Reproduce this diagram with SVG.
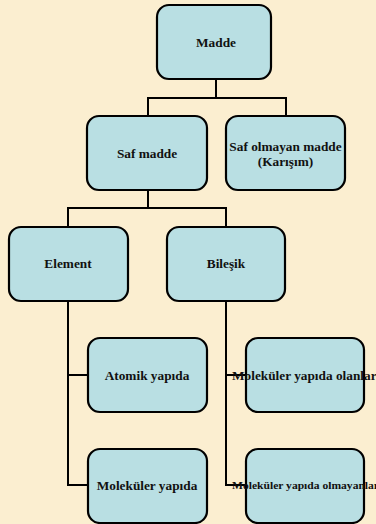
<svg xmlns="http://www.w3.org/2000/svg" width="376" height="524" viewBox="0 0 376 524">
<style>
.box{fill:#B9DFE3;stroke:#000;stroke-width:2.2}
.t{font-family:"Liberation Serif",serif;font-weight:bold;fill:#111;text-anchor:middle;font-size:13.3px}
.c{fill:none;stroke:#000;stroke-width:2}
</style>
<rect width="376" height="524" fill="#FBEED0"/>
<g id="connectors">
<path class="c" d="M216 79V98M148 116V98H286V116"/>
<path class="c" d="M148 190V208M68 227V208H226V227"/>
<path class="c" d="M68 301V485H88M68 375H88"/>
<path class="c" d="M226 301V485H246M226 375H246"/>
</g>
<g id="madde"><rect class="box" x="157" y="5" width="114" height="74" rx="12"/><text class="t" x="216" y="46.5">Madde</text></g>
<g id="saf"><rect class="box" x="87" y="116" width="120" height="74" rx="12"/><text class="t" x="147" y="157.5">Saf madde</text></g>
<g id="karisim"><rect class="box" x="226" y="116" width="119" height="74" rx="12"/><text class="t" x="285.5" y="151">Saf olmayan madde</text><text class="t" x="285.5" y="166">(Karışım)</text></g>
<g id="element"><rect class="box" x="9" y="227" width="119" height="74" rx="12"/><text class="t" x="68" y="267.5">Element</text></g>
<g id="bilesik"><rect class="box" x="167" y="227" width="118" height="74" rx="12"/><text class="t" x="226" y="267.5">Bileşik</text></g>
<g id="atomik"><rect class="box" x="88" y="338" width="119" height="74" rx="12"/><text class="t" x="147" y="379.5">Atomik yapıda</text></g>
<g id="molekuler"><rect class="box" x="88" y="449" width="119" height="74" rx="12"/><text class="t" x="147" y="490">Moleküler yapıda</text></g>
<g id="olanlar"><rect class="box" x="246" y="338" width="118" height="74" rx="12"/><text class="t" x="232" y="379.5" style="text-anchor:start">Moleküler yapıda olanlar</text></g>
<g id="olmayanlar"><rect class="box" x="246" y="449" width="118" height="74" rx="12"/><text class="t" x="232" y="489" style="text-anchor:start;font-size:10px" textLength="147" lengthAdjust="spacingAndGlyphs">Moleküler yapıda olmayanlar</text></g>
</svg>
